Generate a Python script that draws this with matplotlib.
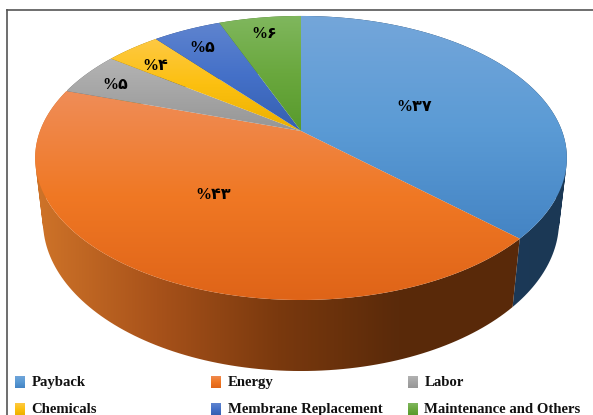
import numpy as np
import matplotlib
matplotlib.use("Agg")
import matplotlib.pyplot as plt
from matplotlib.colors import LinearSegmentedColormap
from matplotlib.path import Path

categories = ["Payback", "Energy", "Labor", "Chemicals", "Membrane Replacement", "Maintenance and Others"]
shares = [37, 43, 5, 4, 5, 6]
labels = ["%۳۷", "%۴۳", "%۵", "%۴", "%۵", "%۶"]

# top-surface shading, light to dark going down
top_colors = [
    ["#74a6da", "#5b9bd5", "#4484c4"],
    ["#ef8d58", "#f07824", "#df6418"],
    ["#b4b4b4", "#a5a5a5", "#969696"],
    ["#fec944", "#fcc010", "#ecb000"],
    ["#5f84cf", "#4470c8", "#3560b0"],
    ["#80b75e", "#6aa83e", "#589a2c"],
]
# rim shading, left to right
side_colors = [
    ["#1d3c5c", "#1b3855"],
    ["#cf7429", "#a8521a", "#7a390e", "#5a2a0a", "#592909"],
    ["#636363", "#636363"],
    ["#997300", "#997300"],
    ["#264478", "#264478"],
    ["#43682b", "#43682b"],
]

label_xy = [(414, 107), (213, 195), (115, 85), (155, 66), (202, 48), (264, 34)]
legend_x = [15, 211, 408]
legend_y = [382, 409]

# projection of the tilted disc
cx, K = 301, 261
persp = 0.19
slope, offset = -112.0, 131.0
depth_w, depth_y = 0.0293, 68.4


def project(theta, r=1.0, low=False):
    u = r * np.sin(theta)
    v = r * np.cos(theta)
    w = 1 + persp * v + (depth_w if low else 0)
    y = slope * v + offset + (depth_y if low else 0)
    return cx + K * u / w, y / w


def gradient(ax, path, colors, zorder, horizontal=False):
    xy = path.vertices
    x0, x1 = xy[:, 0].min(), xy[:, 0].max()
    y0, y1 = xy[:, 1].min(), xy[:, 1].max()
    cmap = LinearSegmentedColormap.from_list("shade", colors)
    ramp = np.linspace(0, 1, 256)
    ramp = ramp[None, :] if horizontal else ramp[:, None]
    im = ax.imshow(ramp, cmap=cmap, extent=(x0, x1, y1, y0), aspect="auto",
                   interpolation="bilinear", zorder=zorder)
    im.set_clip_path(path, ax.transData)


def rim_path(t):
    # one quad per step so the outline follows the tangent between top and bottom rims
    xt, yt = project(t)
    xb, yb = project(t, low=True)
    polys = []
    for k in range(len(t) - 1):
        quad = np.array([(xt[k], yt[k]), (xt[k + 1], yt[k + 1]), (xb[k + 1], yb[k + 1]), (xb[k], yb[k])])
        x, y = quad[:, 0], quad[:, 1]
        if np.dot(x, np.roll(y, -1)) - np.dot(y, np.roll(x, -1)) < 0:
            quad = quad[::-1]
        polys.append(quad)
    return Path.make_compound_path(*[Path(np.r_[q, q[:1]], closed=True) for q in polys])


fig = plt.figure(figsize=(5.93, 4.15), dpi=100)
ax = fig.add_axes([0, 0, 1, 1])

edges = np.radians(np.cumsum([0] + shares) * 3.6)

# rim first, top surface over it
for i in range(len(shares)):
    t = np.linspace(edges[i], edges[i + 1], 120)
    gradient(ax, rim_path(t), side_colors[i], 2, horizontal=True)

for i in range(len(shares)):
    t = np.linspace(edges[i], edges[i + 1], 200)
    xt, yt = project(t)
    x0, y0 = project(0.0, r=0.0)
    pts = np.r_[[[x0, y0]], np.c_[xt, yt], [[x0, y0]]]
    gradient(ax, Path(pts, closed=True), top_colors[i], 3)

for text, (x, y) in zip(labels, label_xy):
    ax.text(x, y, text, ha="center", va="center", fontsize=11.5, color="black", zorder=5,
            family=["Liberation Serif", "DejaVu Sans"], weight="bold")

# legend, three columns over two rows
for i, name in enumerate(categories):
    lx = legend_x[i % 3]
    ly = legend_y[i // 3]
    box = [(lx, ly - 6), (lx + 10, ly - 6), (lx + 10, ly + 6), (lx, ly + 6), (lx, ly - 6)]
    gradient(ax, Path(box, closed=True), top_colors[i], 3)
    ax.text(lx + 16.5, ly, name, ha="left", va="center", fontsize=10.6, color="#111111",
            family="Liberation Serif", weight="bold")

# frame on the top and left only
ax.plot([7, 593], [10, 10], color="#555555", lw=1.2, zorder=6)
ax.plot([7, 7], [10, 415], color="#555555", lw=1.2, zorder=6)

ax.set_xlim(0, 593)
ax.set_ylim(415, 0)
ax.axis("off")
fig.savefig("out.png", dpi=100)
